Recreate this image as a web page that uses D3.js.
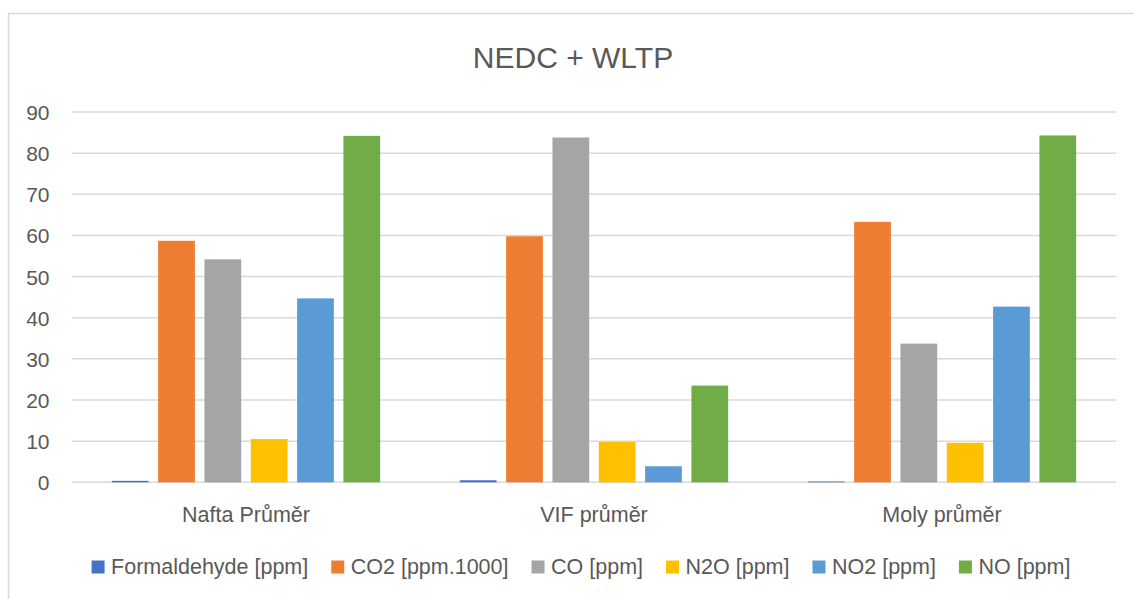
<!DOCTYPE html>
<html>
<head>
<meta charset="utf-8">
<script src="https://cdn.jsdelivr.net/npm/d3@7"></script>
<style>
  html, body { margin: 0; padding: 0; background: #fff; }
  svg { display: block; font-family: "Liberation Sans", Arial, sans-serif; }
</style>
</head>
<body>
<svg id="chart" width="1134" height="599"></svg>
<script>
// Measurement groups along the x axis
const categories = ["Nafta Průměr", "VIF průměr", "Moly průměr"];

// Series names (legend order) and their colours
const seriesNames = ["Formaldehyde [ppm]", "CO2 [ppm.1000]", "CO [ppm]", "N2O [ppm]", "NO2 [ppm]", "NO [ppm]"];
const seriesColors = ["#4472C4", "#ED7D31", "#A5A5A5", "#FFC000", "#5B9BD5", "#70AD47"];

// Values per series, one entry per category
const formaldehyde = [0.35, 0.5, 0.2];
const co2 = [58.7, 59.8, 63.3];
const co = [54.2, 83.8, 33.7];
const n2o = [10.5, 9.8, 9.6];
const no2 = [44.7, 3.9, 42.7];
const no = [84.2, 23.5, 84.3];

const yTicks = [0, 10, 20, 30, 40, 50, 60, 70, 80, 90];
const titleText = "NEDC + WLTP";

const seriesValues = [formaldehyde, co2, co, n2o, no2, no];

const svg = d3.select("#chart");
const textColor = "#595959";
const gridColor = "#d9d9d9";

// Chart frame
svg.append("path")
  .attr("d", "M8.5,700 L8.5,13.5 L1140,13.5")
  .attr("fill", "none")
  .attr("stroke", gridColor)
  .attr("stroke-width", 1.5);

// Title
svg.append("text")
  .attr("x", 573)
  .attr("y", 68)
  .attr("text-anchor", "middle")
  .attr("font-size", 30)
  .attr("fill", textColor)
  .text(titleText);

// Scales
const x0 = d3.scaleBand().domain(categories).range([72, 1116]).padding(0);
const x1 = d3.scaleBand().domain(seriesNames)
  .range([0, x0.bandwidth()])
  .paddingInner(0.207)
  .paddingOuter(0.86);
const y = d3.scaleLinear().domain([0, 90]).range([482.3, 112]);
const color = d3.scaleOrdinal().domain(seriesNames).range(seriesColors);

// Horizontal gridlines
svg.append("g")
  .selectAll("line")
  .data(yTicks)
  .join("line")
  .attr("x1", 72)
  .attr("x2", 1116)
  .attr("y1", d => y(d))
  .attr("y2", d => y(d))
  .attr("stroke", gridColor)
  .attr("stroke-width", 1.5);

// Y axis labels
const yAxis = d3.axisLeft(y).tickValues(yTicks).tickSize(0).tickPadding(0);
const yg = svg.append("g").attr("transform", "translate(49.5,0)").call(yAxis);
yg.select(".domain").remove();
yg.selectAll("text")
  .attr("font-family", "Liberation Sans, Arial, sans-serif")
  .attr("font-size", 21)
  .attr("fill", textColor)
  .attr("dy", "0.36em");

// Bars
const rows = categories.map((c, i) => ({
  category: c,
  values: seriesNames.map((s, j) => ({ series: s, value: seriesValues[j][i] }))
}));

svg.append("g")
  .selectAll("g")
  .data(rows)
  .join("g")
  .attr("transform", d => `translate(${x0(d.category)},0)`)
  .selectAll("rect")
  .data(d => d.values)
  .join("rect")
  .attr("x", d => x1(d.series))
  .attr("width", x1.bandwidth())
  .attr("y", d => y(d.value))
  .attr("height", d => y(0) - y(d.value))
  .attr("fill", d => color(d.series));

// Category labels
const xAxis = d3.axisBottom(x0).tickSize(0).tickPadding(0);
const xg = svg.append("g").attr("transform", "translate(0,521.5)").call(xAxis);
xg.select(".domain").remove();
xg.selectAll("text")
  .attr("font-family", "Liberation Sans, Arial, sans-serif")
  .attr("font-size", 21.5)
  .attr("fill", textColor)
  .attr("dy", 0);

// Legend, centred under the plot
const legend = svg.append("g");
const items = legend.selectAll("g").data(seriesNames).join("g");
items.append("rect")
  .attr("width", 13)
  .attr("height", 13)
  .attr("y", 560.5)
  .attr("fill", d => color(d));
items.append("text")
  .attr("x", 19.5)
  .attr("y", 573.5)
  .attr("font-size", 21.5)
  .attr("fill", textColor)
  .text(d => d);

const gap = 23;
let widths = [];
items.each(function () {
  widths.push(19.5 + d3.select(this).select("text").node().getComputedTextLength());
});
const total = d3.sum(widths) + gap * (widths.length - 1);
let cx = 581 - total / 2;
items.each(function (d, i) {
  d3.select(this).attr("transform", `translate(${cx},0)`);
  cx += widths[i] + gap;
});
</script>
</body>
</html>
